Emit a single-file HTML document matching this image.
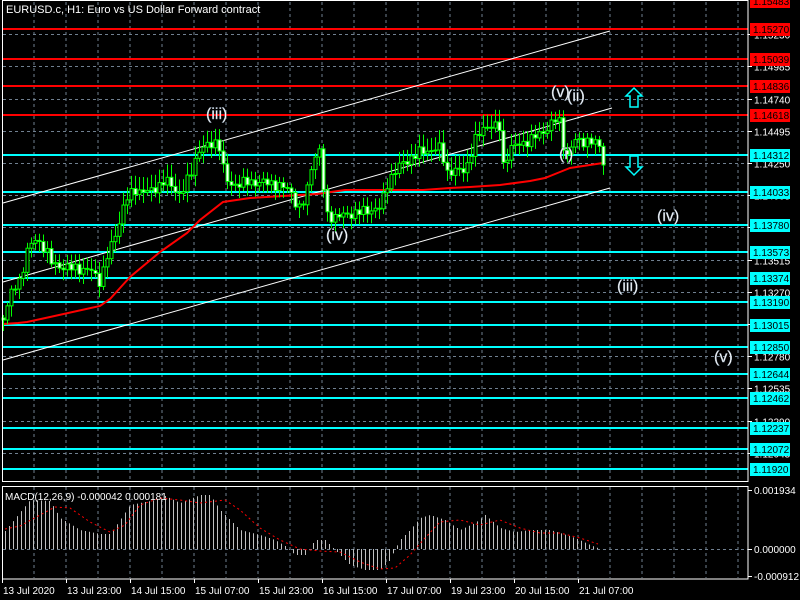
<!DOCTYPE html>
<html><head><meta charset="utf-8"><style>
html,body{margin:0;padding:0;background:#000;width:800px;height:600px;overflow:hidden}
svg{display:block}
text{font-family:"Liberation Sans",sans-serif}
</style></head><body>
<svg id="s" width="800" height="600" xmlns="http://www.w3.org/2000/svg">
<rect width="800" height="600" fill="#000"/>
<g id="grid"></g>
<g id="lev"></g>
<g id="chan" stroke="#fff" stroke-width="1">
<line x1="3" y1="203" x2="610" y2="31"/>
<line x1="3" y1="282" x2="612" y2="108"/>
<line x1="3" y1="360" x2="610" y2="188"/>
</g>
<polyline id="ma" fill="none" stroke="#ff0000" stroke-width="2"/>
<g id="candles"></g>
<g id="macd"></g>
<polyline id="sig" fill="none" stroke="#ff0000" stroke-width="1" stroke-dasharray="2,3"/>
<g fill="none" stroke="#fff" stroke-width="1">
<rect x="2.5" y="0.5" width="745.5" height="481"/>
<rect x="2.5" y="486.5" width="745.5" height="92.5"/>
</g>
<g id="axis" font-size="10" fill="#fff"></g>
<g font-size="16" fill="#fff" stroke="#9ab" stroke-width="0.4">
<text x="206" y="119">(iii)</text>
<text x="326" y="240">(iv)</text>
<text x="551" y="97">(v)</text>
<text x="567" y="101">(ii)</text>
<text x="559" y="159">(i)</text>
<text x="657" y="221">(iv)</text>
<text x="617" y="291">(iii)</text>
<text x="714" y="362">(v)</text>
</g>
<g fill="none" stroke="#00ffff" stroke-width="1.5">
<path d="M634,88 L642,96 L638,96 L638,107 L630,107 L630,96 L626,96 Z"/>
<path d="M634,175 L642,167 L638,167 L638,156 L630,156 L630,167 L626,167 Z"/>
</g>
<text x="6" y="13" font-size="11" fill="#fff">EURUSD.c, H1:  Euro vs US Dollar Forward contract</text>
<text x="5" y="500" font-size="10" fill="#fff">MACD(12,26,9) -0.000042 0.000181</text>
</svg>
<script>
(function(){
var NS="http://www.w3.org/2000/svg";
function el(p,t,a,txt){var e=document.createElementNS(NS,t);for(var k in a)e.setAttribute(k,a[k]);if(txt!=null)e.textContent=txt;p.appendChild(e);return e;}
var g=document.getElementById('grid');
for(var x=34;x<748;x+=32){el(g,'line',{x1:x,y1:2,x2:x,y2:481,stroke:'#708090','stroke-dasharray':'3,3'});el(g,'line',{x1:x,y1:487,x2:x,y2:578,stroke:'#708090','stroke-dasharray':'3,3'});}
function py(p){return 163+(1.1425-p)*13143;}
var ticks=["1.15230","1.14985","1.14740","1.14495","1.14250","1.14005","1.13760","1.13515","1.13270","1.13025","1.12780","1.12535","1.12290","1.12045"];
var ax=document.getElementById('axis');
ticks.forEach(function(t){var y=Math.round(py(+t))+0.5;el(g,'line',{x1:3,y1:y,x2:748,y2:y,stroke:'#708090','stroke-dasharray':'3,3'});el(ax,'line',{x1:748,y1:y,x2:752,y2:y,stroke:'#fff'});el(ax,'text',{x:754,y:y+4},t);});
el(g,'line',{x1:3,y1:549.5,x2:748,y2:549.5,stroke:'#708090','stroke-dasharray':'3,3'});
[["0.001934",490],["0.000000",549],["-0.000912",576]].forEach(function(a){el(ax,'line',{x1:748,y1:a[1]+.5,x2:752,y2:a[1]+.5,stroke:'#fff'});el(ax,'text',{x:754,y:a[1]+4},a[0]);});
var times=[["13 Jul 2020",2],["13 Jul 23:00",66],["14 Jul 15:00",130],["15 Jul 07:00",194],["15 Jul 23:00",258],["16 Jul 15:00",322],["17 Jul 07:00",386],["19 Jul 23:00",450],["20 Jul 15:00",514],["21 Jul 07:00",578]];
times.forEach(function(t){el(ax,'line',{x1:t[1]+.5,y1:579,x2:t[1]+.5,y2:583,stroke:'#fff'});el(ax,'text',{x:t[1]+1,y:594},t[0]);});
var lev=document.getElementById('lev');
var reds=["1.15483","1.15270","1.15039","1.14836","1.14618"],cy=["1.14312","1.14033","1.13780","1.13573","1.13374","1.13190","1.13015","1.12850","1.12644","1.12462","1.12237","1.12072","1.11920"];
function lv(arr,c){arr.forEach(function(t){var y=Math.round(py(+t));if(y>3)el(lev,'line',{x1:3,y1:y,x2:748,y2:y,stroke:c,'stroke-width':2});var by=Math.max(y-6,-5);el(ax,'rect',{x:750,y:by,width:40,height:13,fill:c});el(ax,'text',{x:753,y:by+10,fill:'#000'},t);});}
lv(reds,'#ff0000');lv(cy,'#00ffff');
function interp(pts,x){for(var i=1;i<pts.length;i++){if(x<=pts[i][0]){var a=pts[i-1],b=pts[i];return a[1]+(b[1]-a[1])*(x-a[0])/(b[0]-a[0]);}}return pts[pts.length-1][1];}
var path=[[3,318],[8,300],[14,288],[20,280],[27,250],[35,240],[45,248],[52,265],[70,268],[90,270],[100,282],[105,262],[115,235],[125,200],[135,190],[150,192],[165,180],[180,195],[190,175],[198,150],[210,145],[218,140],[222,165],[228,185],[250,182],[270,183],[290,190],[298,210],[305,200],[312,160],[320,150],[325,215],[335,217],[360,212],[380,208],[388,180],[400,165],[420,152],[440,148],[447,172],[465,170],[475,140],[485,125],[500,128],[503,165],[510,148],[530,140],[545,130],[555,120],[560,122],[565,160],[575,140],[590,142],[600,145],[603,162]];
var cg=document.getElementById('candles');
var prev=interp(path,3);
for(var i=0;i<=150;i++){var x=3+4*i;var c=interp(path,x)+4*Math.sin(i*2.7)+2*Math.cos(i*1.3);var o=prev;
var hi=Math.min(o,c)-3-Math.abs(10*Math.sin(i*3.1));var lo=Math.max(o,c)+3+Math.abs(8*Math.cos(i*1.7));
el(cg,'line',{x1:x+.5,y1:hi,x2:x+.5,y2:lo,stroke:'#00ff00'});
var bt=Math.min(o,c),h=Math.max(1,Math.abs(o-c));
el(cg,'rect',{x:x-1,y:bt,width:3,height:h,fill:(c<o)?'#000':'#fff',stroke:'#00ff00','stroke-width':1});
prev=c;}
var ma=[[3,324],[18,323],[27,322],[50,317],[100,306],[110,299],[130,277],[160,252],[187,233],[200,220],[223,202],[250,198],[283,196],[317,194],[345,190],[423,190],[450,188],[470,187],[500,185],[530,181],[545,178],[560,172],[570,168],[603,163]];
document.getElementById('ma').setAttribute('points',ma.map(function(p){return p.join(',')}).join(' '));
var hist=[[5,531],[30,500],[50,501],[60,518],[80,530],[100,534],[110,534],[120,520],[130,505],[155,500],[165,496],[180,503],[200,495],[210,495],[220,510],[240,530],[260,535],[275,540],[285,546],[295,555],[305,555],[315,540],[325,540],[330,545],[340,555],[350,565],[365,570],[380,570],[390,560],[395,549],[400,540],[410,530],[420,518],[430,515],[445,520],[460,530],[475,523],[485,515],[500,528],[515,532],[530,530],[550,530],[560,533],[575,538],[590,545],[600,549]];
var mg=document.getElementById('macd');
for(var x=5;x<=601;x+=4){var y=interp(hist,x);el(mg,'line',{x1:x+.5,y1:549,x2:x+.5,y2:y,stroke:'#c0c0c0'});}
var sig=[[5,529],[20,526],[40,515],[55,507],[70,508],[90,522],[110,532],[125,525],[140,505],[160,498],[180,500],[200,503],[225,500],[240,510],[260,528],[280,540],[300,549],[320,551],[340,552],[360,562],[380,569],[395,568],[410,555],[425,538],[440,522],[460,520],[480,525],[500,520],[520,528],[540,533],[560,533],[580,538],[598,544]];
document.getElementById('sig').setAttribute('points',sig.map(function(p){return p.join(',')}).join(' '));
})();
</script>
</body></html>
